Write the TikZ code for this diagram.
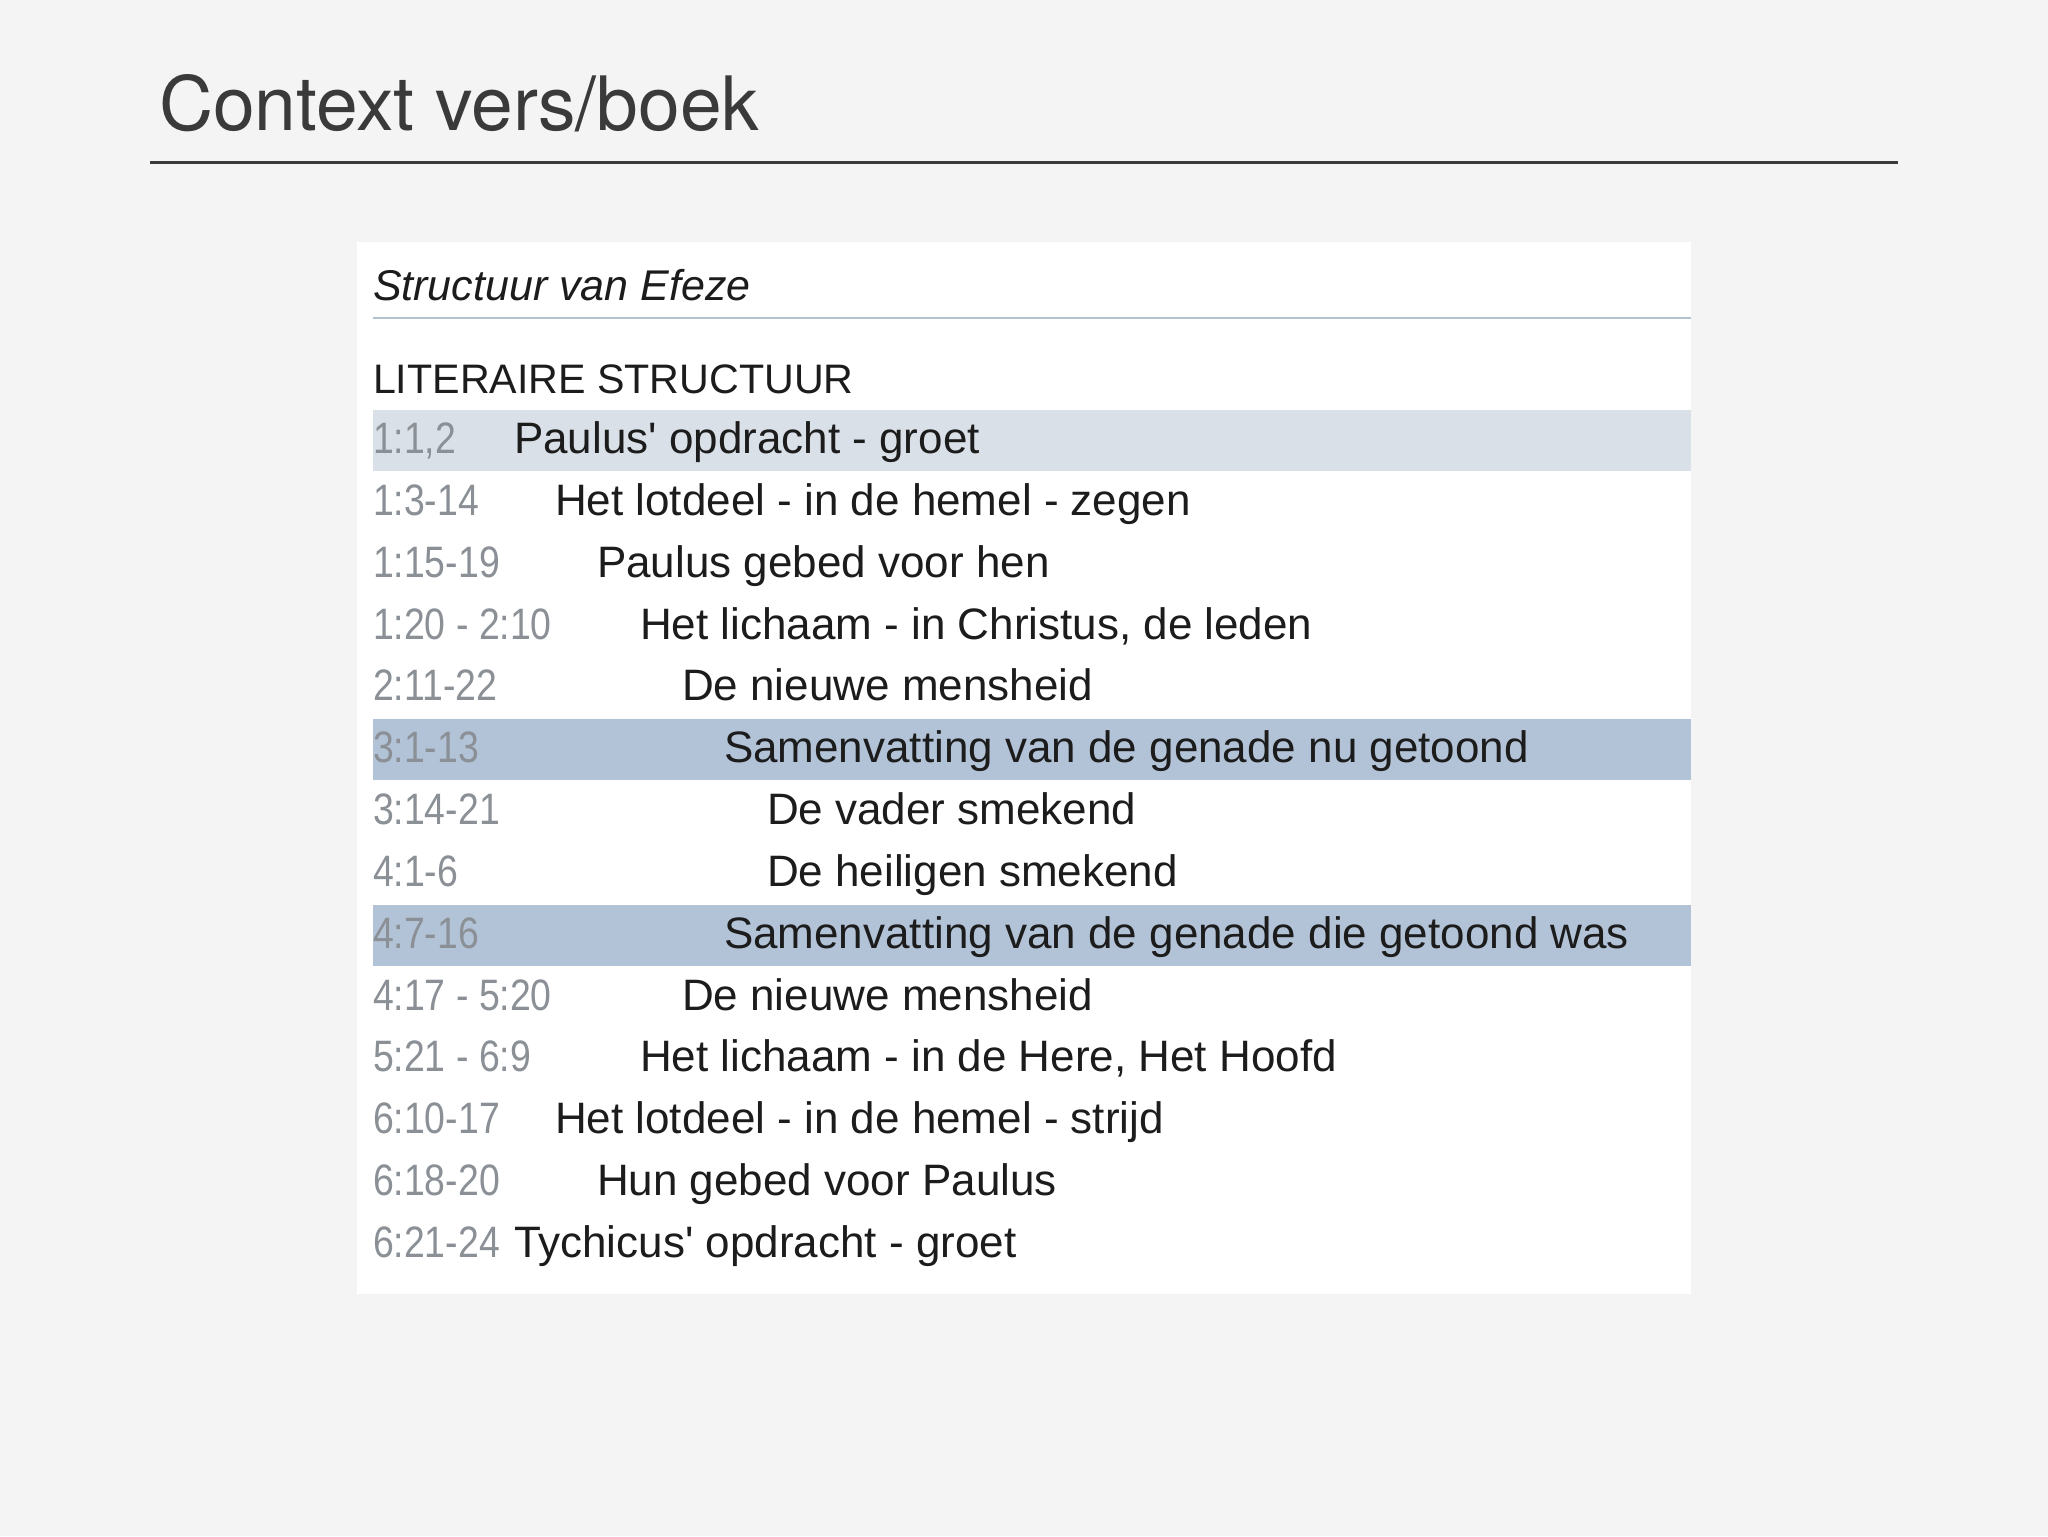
\documentclass[tikz,border=0pt]{standalone}
\usepackage{fontspec}
\setmainfont{Liberation Sans}
\newfontfamily\titlefont{TeX Gyre Heros}
\newfontfamily\bodyfont{Liberation Sans}[Ligatures=TeXOff]
\newfontfamily\numfont{Liberation Sans}[FakeStretch=0.85,Ligatures=TeXOff]
\definecolor{bg}{HTML}{F4F4F5}
\definecolor{titlegray}{HTML}{3A3A3A}
\definecolor{sepline}{HTML}{B5C1CD}
\definecolor{hilite}{HTML}{D9E0E8}
\definecolor{hidark}{HTML}{B3C3D7}
\definecolor{numgray}{HTML}{8A9095}
\definecolor{bodytext}{HTML}{1C1C1C}
\tikzset{
  lbl/.style={anchor=base west, inner sep=0pt, outer sep=0pt},
  reftxt/.style={lbl, text=numgray, font=\numfont\fontsize{22pt}{26pt}\selectfont},
  rowtxt/.style={lbl, text=bodytext, font=\bodyfont\fontsize{22pt}{26pt}\selectfont},
  hlight/.style={fill=hilite},
  hdark/.style={fill=hidark}
}
\begin{document}
\begin{tikzpicture}[x=0.5pt,y=-0.5pt]
\useasboundingbox (0,0) rectangle (2048,1536);
\fill[bg] (0,0) rectangle (2048,1536);
% title
\node[lbl, text=titlegray, font=\titlefont\fontsize{37.5pt}{42pt}\selectfont] (title) at (159,130) {Context vers/boek};
\draw[titlegray, line width=1.5pt] (150,162) -- (1898,162);
% panel
\fill[white] (357,242) rectangle (1691,1294);
\node[lbl, text=bodytext, font=\bodyfont\itshape\fontsize{21.5pt}{25pt}\selectfont] (head) at (373,300) {Structuur van Efeze};
\draw[sepline, line width=1pt] (373,318) -- (1691,318);
\node[lbl, text=bodytext, font=\bodyfont\fontsize{20.6pt}{25pt}\selectfont] (lit) at (373,393) {LITERAIRE STRUCTUUR};
% highlights
\fill[hlight] (373,410) rectangle (1691,471);
\fill[hdark] (373,719) rectangle (1691,780);
\fill[hdark] (373,905) rectangle (1691,966);
% rows
\node[reftxt] (r1) at (373,453) {1:1,2};
\node[rowtxt] (t1) at (514,453) {Paulus' opdracht - groet};
\node[reftxt] (r2) at (373,515) {1:3-14};
\node[rowtxt] (t2) at (555,515) {Het lotdeel - in de hemel - zegen};
\node[reftxt] (r3) at (373,577) {1:15-19};
\node[rowtxt] (t3) at (597,577) {Paulus gebed voor hen};
\node[reftxt] (r4) at (373,639) {1:20 - 2:10};
\node[rowtxt] (t4) at (640,639) {Het lichaam - in Christus, de leden};
\node[reftxt] (r5) at (373,700) {2:11-22};
\node[rowtxt] (t5) at (682,700) {De nieuwe mensheid};
\node[reftxt] (r6) at (373,762) {3:1-13};
\node[rowtxt] (t6) at (724,762) {Samenvatting van de genade nu getoond};
\node[reftxt] (r7) at (373,824) {3:14-21};
\node[rowtxt] (t7) at (767,824) {De vader smekend};
\node[reftxt] (r8) at (373,886) {4:1-6};
\node[rowtxt] (t8) at (767,886) {De heiligen smekend};
\node[reftxt] (r9) at (373,948) {4:7-16};
\node[rowtxt] (t9) at (724,948) {Samenvatting van de genade die getoond was};
\node[reftxt] (r10) at (373,1010) {4:17 - 5:20};
\node[rowtxt] (t10) at (682,1010) {De nieuwe mensheid};
\node[reftxt] (r11) at (373,1071) {5:21 - 6:9};
\node[rowtxt] (t11) at (640,1071) {Het lichaam - in de Here, Het Hoofd};
\node[reftxt] (r12) at (373,1133) {6:10-17};
\node[rowtxt] (t12) at (555,1133) {Het lotdeel - in de hemel - strijd};
\node[reftxt] (r13) at (373,1195) {6:18-20};
\node[rowtxt] (t13) at (597,1195) {Hun gebed voor Paulus};
\node[reftxt] (r14) at (373,1257) {6:21-24};
\node[rowtxt] (t14) at (514,1257) {Tychicus' opdracht - groet};
\end{tikzpicture}
\end{document}
